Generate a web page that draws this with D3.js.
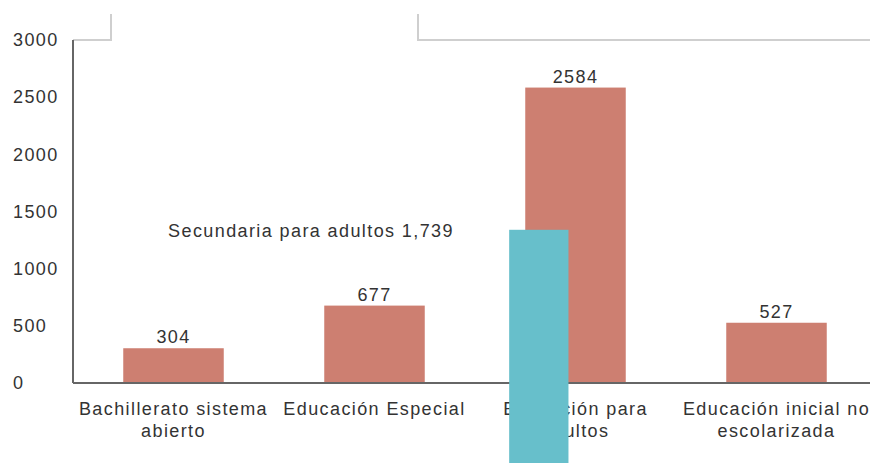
<!DOCTYPE html>
<html>
<head>
<meta charset="utf-8">
<script src="https://cdn.jsdelivr.net/npm/d3@7"></script>
<style>
  body { margin: 0; background: #fff; }
  text { font-family: "Liberation Sans", Arial, sans-serif; font-size: 18px; letter-spacing: 1.4px; fill: #333; }
</style>
</head>
<body>
<div id="chart"></div>
<script>
// data
var categories = [
  ["Bachillerato sistema", "abierto"],
  ["Educación Especial"],
  ["Educación para", "adultos"],
  ["Educación inicial no", "escolarizada"]
];
var values = [304, 677, 2584, 527];
var yTicks = [0, 500, 1000, 1500, 2000, 2500, 3000];

// the highlighted (hovered) series
var highlightLabel = ["Secundaria para adultos"];
var highlightValue = [1739];
var highlightBarTop = [1340]; // where the teal bar top sits on the axis

var width = 870,
    height = 463,
    margin = {top: 40, right: -7, bottom: 80, left: 73};

var svg = d3.select("#chart").append("svg")
  .attr("width", width)
  .attr("height", height);

var names = categories.map(function(d) { return d.join(" "); });

var x = d3.scaleBand()
  .domain(names)
  .range([margin.left, width - margin.right])
  .paddingInner(0.5)
  .paddingOuter(0.25);

var y = d3.scaleLinear()
  .domain([0, 3000])
  .range([height - margin.bottom, margin.top]);

// light frame lines at the top (legend box remains)
svg.append("path")
  .attr("d", "M" + margin.left + "," + y(3000) + "H111V14M418,14V" + y(3000) + "H" + width)
  .attr("fill", "none")
  .attr("stroke", "#cfcfcf")
  .attr("stroke-width", 2);

// y tick labels, left aligned
svg.append("g").selectAll("text")
  .data(yTicks)
  .enter().append("text")
  .attr("x", 13)
  .attr("y", function(d) { return y(d); })
  .attr("dy", "0.35em")
  .text(function(d) { return d; });

// bars
svg.append("g").selectAll("rect")
  .data(values)
  .enter().append("rect")
  .attr("x", function(d, i) { return x(names[i]); })
  .attr("y", function(d) { return y(d); })
  .attr("width", x.bandwidth())
  .attr("height", function(d) { return y(0) - y(d); })
  .attr("fill", "#cd7f71");

// value labels
svg.append("g").selectAll("text")
  .data(values)
  .enter().append("text")
  .attr("x", function(d, i) { return x(names[i]) + x.bandwidth() / 2; })
  .attr("y", function(d) { return y(d) - 5; })
  .style("text-anchor", "middle")
  .text(function(d) { return d; });

// category labels (two lines)
var cat = svg.append("g").selectAll("text")
  .data(categories)
  .enter().append("text")
  .attr("x", function(d, i) { return x(names[i]) + x.bandwidth() / 2; })
  .attr("y", y(0) + 32)
  .style("text-anchor", "middle");

cat.selectAll("tspan")
  .data(function(d) { return d; })
  .enter().append("tspan")
  .attr("x", function() { return d3.select(this.parentNode).attr("x"); })
  .attr("dy", function(d, i) { return i ? 22 : 0; })
  .text(function(d) { return d; });

// axes lines
svg.append("line")
  .attr("x1", margin.left).attr("x2", margin.left)
  .attr("y1", y(3000)).attr("y2", y(0))
  .attr("stroke", "#666").attr("stroke-width", 2);
svg.append("line")
  .attr("x1", margin.left).attr("x2", width)
  .attr("y1", y(0)).attr("y2", y(0))
  .attr("stroke", "#666").attr("stroke-width", 2);

// highlighted teal bar, drops below the axis
var hx = x(names[2]) - x.bandwidth() * 0.16;
svg.append("g").selectAll("rect")
  .data(highlightBarTop)
  .enter().append("rect")
  .attr("x", hx)
  .attr("y", function(d) { return y(d); })
  .attr("width", x.bandwidth() * 0.59)
  .attr("height", function(d) { return height - y(d); })
  .attr("fill", "#67bfcb");

// highlight label
svg.append("text")
  .attr("x", 311)
  .attr("y", 237)
  .style("text-anchor", "middle")
  .text(highlightLabel[0] + " " + d3.format(",")(highlightValue[0]));
</script>
</body>
</html>
